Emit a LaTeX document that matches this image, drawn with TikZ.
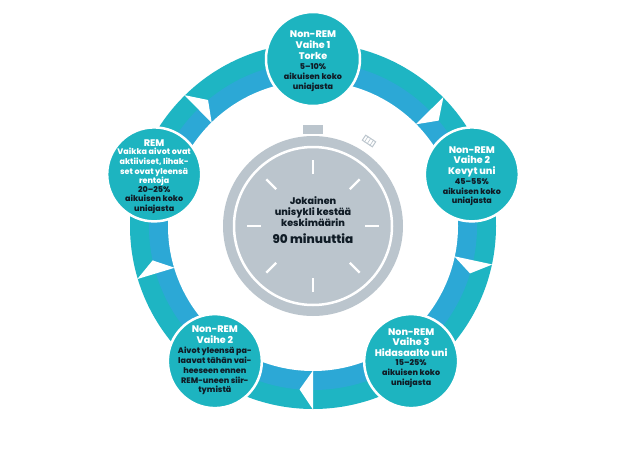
\documentclass[tikz,border=0pt]{standalone}
\usepackage{fontspec}
\setmainfont{Poppins}[BoldFont={Poppins ExtraBold}]
\usetikzlibrary{calc}
\definecolor{teal1}{RGB}{30,181,195}
\definecolor{blue1}{RGB}{44,168,214}
\definecolor{circ}{RGB}{29,180,192}
\definecolor{watch}{RGB}{187,197,205}
\definecolor{ink}{RGB}{16,28,38}
\begin{document}
\begin{tikzpicture}[x=1pt,y=-1pt,
  stage/.style={circle, fill=circ, draw=white, line width=2.5pt, minimum size=94pt, inner sep=0pt},
  ttl/.style={text=white, font=\bfseries\fontsize{9.6}{10.7}\selectfont, align=center, inner sep=0pt},
  body/.style={text=ink, font=\bfseries\fontsize{8}{9.7}\selectfont, align=center, inner sep=0pt},
  bodyw/.style={body, text=white},
  tickline/.style={white, line width=2.4pt},
]
\useasboundingbox (0,0) rectangle (626,450);
\coordinate (O) at (313,226);
% ring
\fill[teal1] (O) circle (183);
\fill[blue1] (O) circle (164);
\fill[white] (O) circle (145);
% white arrowheads in the ring
\foreach \a in {225.5,315.3,12.1,90,163.2}
  \fill[white] ($(O)+(\a:144.5)$) -- ($(O)+(\a:183.5)$) -- ($(O)+(\a+4.7:164)$) -- cycle;
% stage circles
\node[stage] (s1) at ($(O)+(-90:167)$) {};
\node[stage] (s2) at ($(O)+(-18:167)$) {};
\node[stage] (s3) at ($(O)+(54:167)$) {};
\node[stage] (s4) at ($(O)+(126:167)$) {};
\node[stage] (s5) at ($(O)+(198:167)$) {};
% texts
\node[ttl] (s1t) at ($(s1)+(0,-14)$) {Non-REM\\Vaihe 1\\Torke};
\node[body] (s1b) at ($(s1)+(0,18.5)$) {5–10\%\\aikuisen koko\\uniajasta};
\node[ttl] (s2t) at ($(s2)+(0,-12.5)$) {Non-REM\\Vaihe 2\\Kevyt uni};
\node[body] (s2b) at ($(s2)+(0,18)$) {45–55\%\\aikuisen koko\\uniajasta};
\node[ttl] (s3t) at ($(s3)+(0,-18.5)$) {Non-REM\\Vaihe 3\\Hidasaalto uni};
\node[body] (s3b) at ($(s3)+(0,12.5)$) {15–25\%\\aikuisen koko\\uniajasta};
\node[ttl] (s4t) at ($(s4)+(0,-26.5)$) {Non-REM\\Vaihe 2};
\node[body] (s4b) at ($(s4)+(0,10)$) {Aivot yleensä pa-\\laavat tähän vai-\\heeseen ennen\\REM-uneen siir-\\tymistä};
\node[ttl] (s5t) at ($(s5)+(0,-31.6)$) {REM};
\node[bodyw] (s5d) at ($(s5)+(0,-7.4)$) {Vaikka aivot ovat\\aktiiviset, lihak-\\set ovat yleensä\\rentoja};
\node[body] (s5b) at ($(s5)+(0,25.5)$) {20–25\%\\aikuisen koko\\uniajasta};
% stopwatch
\node[fill=watch, minimum width=20pt, minimum height=9pt, inner sep=0pt] (crown) at (313,129.5) {};
\fill[watch] (O) circle (90);
\draw[white, line width=2.5pt] (O) circle (79);
\foreach \a in {0,45,...,315}
  \draw[tickline] ($(O)+(\a:52)$) -- ($(O)+(\a:66)$);
\node[draw=watch, fill=white, line width=1pt, minimum width=12pt, minimum height=6pt, inner sep=0pt, rotate=-33.4] (btn) at (369,141) {};
\foreach \f in {0.25,0.5,0.75}
  \draw[watch, line width=0.6pt] ($(btn.north west)!\f!(btn.north east)$) -- ($(btn.south west)!\f!(btn.south east)$);
\node[font=\bfseries\fontsize{9.6}{11}\selectfont, text=ink, align=center, inner sep=0pt] (wt) at (313,212) {Jokainen\\unisykli kestää\\keskimäärin};
\node[font=\bfseries\fontsize{12}{13}\selectfont, text=ink, inner sep=0pt] (wm) at (313,239) {90 minuuttia};
\end{tikzpicture}
\end{document}
